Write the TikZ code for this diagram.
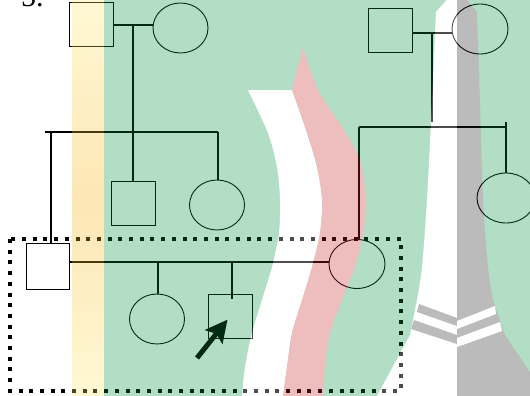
\documentclass[tikz,border=0pt]{standalone}
\usepackage{fontspec}
\setmainfont{Liberation Serif}
\usepackage{tikz}
\usetikzlibrary{shapes.geometric, arrows.meta, positioning}
\definecolor{wmgreen}{RGB}{0,145,65}
\definecolor{wmpink}{RGB}{200,35,40}
\definecolor{wmgray}{RGB}{30,30,30}
\definecolor{wmyellowA}{RGB}{255,232,110}
\definecolor{wmyellowB}{RGB}{245,172,10}
\tikzstyle{male} = [rectangle,
minimum size=44pt, inner sep=0pt,
draw=black, line width=0.9pt]
\tikzstyle{female} = [ellipse,
minimum width=55pt,
minimum height=50pt, inner sep=0pt,
draw=black, line width=0.9pt]
\tikzstyle{kinline} = [draw=black, line width=1.2pt]
\tikzstyle{family} = [draw=black, line width=4pt, dash pattern=on 4pt off 6.7pt]
\tikzstyle{pointer} = [draw=black, line width=5pt, -{Stealth[length=22pt,width=22pt,inset=4pt]}, shorten >=4pt]

\begin{document}
\begin{tikzpicture}[x=1pt, y=-1pt]
                \useasboundingbox (0,0) rectangle (530,396);
                \clip (0,0) rectangle (530,396);
                \node (num) [anchor=base west, inner sep=0pt, font=\fontsize{30}{30}\selectfont] at (21,6.5) {5.};

                % grandparents
                \node (gf1) [male] at (91,24.5) {};
                \node (gm1) [female] at (180.5,28) {};
                \node (gf2) [male] at (390,30.5) {};
                \node (gm2) [female, minimum width=56pt] at (480,29) {};

                % parents, uncle and aunts
                \node (dad) [male, minimum width=43pt, minimum height=46pt] at (47.5,266) {};
                \node (uncle) [male] at (133,203.5) {};
                \node (aunt1) [female] at (217,205) {};
                \node (mom) [female, minimum width=56pt, minimum height=49pt] at (357,264) {};
                \node (aunt2) [female, minimum width=58pt] at (506,198) {};

                % children
                \node (sis) [female] at (157,319) {};
                \node (pb) [male] at (230,316.5) {};

                \coordinate (m1) at (133,25);
                \coordinate (s1l) at (45,132);
                \coordinate (s1r) at (218,132);
                \coordinate (d1) at (51,132);
                \coordinate (m2) at (432,33);
                \coordinate (m2b) at (432,122);
                \coordinate (s2l) at (359,127);
                \coordinate (s2r) at (506,127);
                \coordinate (s2rt) at (506,122);
                \coordinate (c1) at (158,262);
                \coordinate (c2) at (232,262);
                \coordinate (c2b) at (232,299);
                \coordinate (ptr) at (197,358);

                \draw [kinline] (m1 -| gf1.east) -- (m1 -| gm1.west);
                \draw [kinline] (m1) -- (uncle.north);
                \draw [kinline] (s1l) -- (s1r);
                \draw [kinline] (s1r) -- (s1r |- aunt1.north);
                \draw [kinline] (d1) -- (d1 |- dad.north);
                \draw [kinline] (m2 -| gf2.east) -- (m2 -| gm2.west);
                \draw [kinline] (m2) -- (m2b);
                \draw [kinline] (s2l) -- (s2r);
                \draw [kinline] (s2rt) -- (s2rt |- aunt2.north);
                \draw [kinline] (s2l) -- (s2l |- mom.north);
                \draw [kinline] (c1 -| dad.east) -- (c1 -| mom.west);
                \draw [kinline] (c1) -- (c1 |- sis.north);
                \draw [kinline] (c2) -- (c2b);

                \draw [family] (10,239) rectangle (401,391);
                \draw [pointer] (ptr) -- (pb.center);

                % watermark
                \begin{scope}[transparency group, opacity=0.3]
                \shade [top color=wmyellowA, bottom color=wmyellowA, middle color=wmyellowB] (72,0) rectangle (104,396);
                \fill [wmgreen] (104,0) rectangle (530,396);
                \fill [white] plot[smooth] coordinates {(248,90) (268,133) (277,167) (280,200) (279,233) (272,267) (262,300) (252,333) (245,367) (242,396)}
                    -- plot[smooth] coordinates {(283,396) (287,367) (292,333) (302,300) (312,267) (320,233) (322,200) (317,167) (307,133) (292,90)} -- cycle;
                \fill [wmpink] (303,47) -- plot[smooth] coordinates {(292,90) (307,133) (317,167) (322,200) (320,233) (312,267) (302,300) (292,333) (287,367) (283,396)}
                    -- plot[smooth] coordinates {(323,396) (325,367) (330,333) (342,300) (355,267) (363,233) (366,200) (360,160) (342,127) (318,90) (303,47)} -- cycle;
                \fill [white] (457,-12) -- plot[smooth] coordinates {(436,12) (432,100) (427,200) (422,267) (417,300)} -- (410,335) -- (377,396) -- (457,396) -- cycle;
                \fill [wmgray] (457,-12) -- plot[smooth] coordinates {(477,12) (480,100) (483,200) (488,267) (493,300)} -- (505,335) -- (530,372) -- (530,396) -- (457,396) -- cycle;
                \fill [wmgray] (419,304) -- (457,318) -- (457,326) -- (417,312) -- cycle;
                \fill [wmgray] (414,320) -- (457,335) -- (457,344) -- (411,329) -- cycle;
                \fill [white] (457,321) -- (495,306) -- (496,314) -- (457,329) -- cycle;
                \fill [white] (457,338) -- (500,322) -- (502,331) -- (457,347) -- cycle;
                \end{scope}
            \end{tikzpicture}
\end{document}
